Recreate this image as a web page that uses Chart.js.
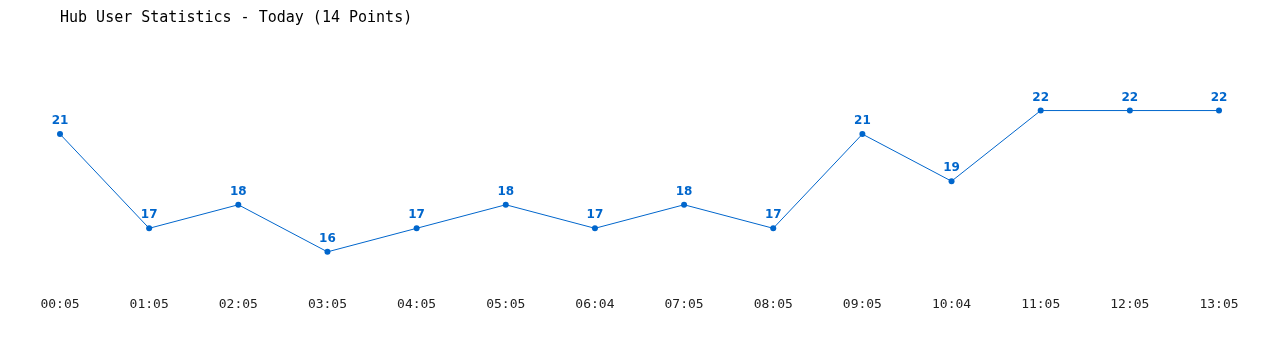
<!DOCTYPE html>
<html>
<head>
<meta charset="utf-8">
<script src="https://cdn.jsdelivr.net/npm/chart.js@4/dist/chart.umd.min.js"></script>
<style>
  html, body { margin: 0; padding: 0; background: #fff; }
  #wrap { width: 1280px; height: 350px; }
</style>
</head>
<body>
<div id="wrap"><canvas id="hubChart"></canvas></div>
<script>
// ============================================
// Data
// ============================================
const timeLabels = ['00:05', '01:05', '02:05', '03:05', '04:05', '05:05', '06:04',
                    '07:05', '08:05', '09:05', '10:04', '11:05', '12:05', '13:05'];
const userCounts = [21, 17, 18, 16, 17, 18, 17, 18, 17, 21, 19, 22, 22, 22];
const chartTitle = 'Hub User Statistics - Today (14 Points)';

const lineBlue = '#0066cc';

// Value labels above each point
const pointLabels = {
    id: 'pointLabels',
    afterDatasetsDraw(chart) {
        const ctx = chart.ctx;
        const meta = chart.getDatasetMeta(0);
        ctx.save();
        ctx.font = 'bold 12px Verdana, "DejaVu Sans", sans-serif';
        ctx.fillStyle = lineBlue;
        ctx.textAlign = 'center';
        ctx.textBaseline = 'middle';
        meta.data.forEach(function(pt, i) {
            ctx.fillText(String(userCounts[i]), pt.x, pt.y - 13);
        });
        ctx.restore();
    }
};

new Chart(document.getElementById('hubChart').getContext('2d'), {
    type: 'line',
    data: {
        labels: timeLabels,
        datasets: [{
            data: userCounts,
            borderColor: lineBlue,
            backgroundColor: lineBlue,
            borderWidth: 1,
            pointRadius: 3,
            pointBackgroundColor: lineBlue,
            pointBorderWidth: 0,
            tension: 0,
            fill: false
        }]
    },
    options: {
        responsive: true,
        maintainAspectRatio: false,
        animation: false,
        layout: { padding: { left: 60, right: 61, top: 0, bottom: 25 } },
        plugins: {
            legend: { display: false },
            tooltip: { enabled: false },
            title: {
                display: true,
                text: chartTitle,
                align: 'start',
                color: '#000',
                font: { family: '"DejaVu Sans Mono", monospace', size: 15, weight: 'normal', lineHeight: 1.2 },
                padding: { top: 9, bottom: 60 }
            }
        },
        scales: {
            x: {
                offset: false,
                grid: { display: false },
                border: { display: false },
                ticks: {
                    color: '#222',
                    maxRotation: 0,
                    autoSkip: false,
                    padding: 13,
                    font: { family: '"DejaVu Sans Mono", monospace', size: 13 }
                }
            },
            y: {
                display: false,
                min: 15,
                max: 23
            }
        }
    },
    plugins: [pointLabels]
});
</script>
</body>
</html>
